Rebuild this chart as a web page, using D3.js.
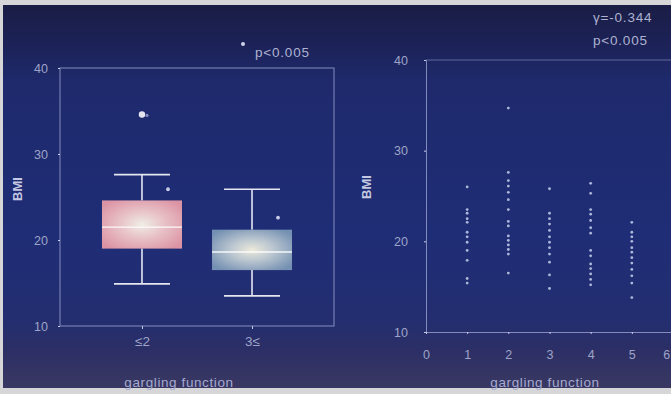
<!DOCTYPE html>
<html>
<head>
<meta charset="utf-8">
<script src="https://cdn.jsdelivr.net/npm/d3@7"></script>
<style>
  html, body { margin: 0; padding: 0; background: #d6d6d8; }
  svg { display: block; }
  text { font-family: "Liberation Sans", Arial, sans-serif; }
</style>
</head>
<body>
<svg id="chart" width="671" height="394"></svg>
<script>
// ---- data ----
const groupLabels = ["≤2", "3≤"];
// box statistics per group: whisker low, Q1, median, Q3, whisker high
const whiskerLow = [14.9, 13.5];
const q1 = [19.0, 16.5];
const median = [21.5, 18.6];
const q3 = [24.6, 21.2];
const whiskerHigh = [27.6, 25.9];
// outliers: [group index, BMI, kind]
const outliers = [[0, 34.6, "o"], [0, 25.9, "*"], [1, 22.6, "*"]];

const yTicks = [10, 20, 30, 40];
const xTicks = [0, 1, 2, 3, 4, 5, 6];

// scatter: BMI by gargling function score
const score1 = [26.0, 23.5, 23.1, 22.5, 22.1, 21.0, 20.5, 19.9, 19.0, 17.9, 15.9, 15.4];
const score2 = [34.7, 27.6, 26.7, 26.1, 25.4, 24.6, 23.5, 22.2, 21.7, 20.6, 20.1, 19.6, 19.1, 18.6, 16.5];
const score3 = [25.8, 23.1, 22.5, 21.9, 21.2, 20.5, 19.9, 19.3, 18.6, 17.7, 16.3, 14.8];
const score4 = [26.4, 25.3, 23.5, 23.0, 22.3, 21.5, 20.9, 19.0, 18.4, 17.5, 17.0, 16.4, 15.8, 15.2];
const score5 = [22.1, 21.0, 20.5, 20.0, 19.3, 18.8, 18.2, 17.6, 16.9, 16.2, 15.4, 13.8];
const scatterScores = [1, 2, 3, 4, 5];
const scatterValues = [score1, score2, score3, score4, score5];

const corrText = "γ=-0.344";
const pText = "p<0.005";
const axisTitle = "gargling function";
const yTitle = "BMI";

// ---- drawing ----
const svg = d3.select("#chart");
const defs = svg.append("defs");

const bg = defs.append("linearGradient").attr("id", "bg")
  .attr("x1", 0).attr("y1", 0).attr("x2", 0).attr("y2", 1);
[[0, "#1a1d45"], [0.1, "#1c2257"], [0.2, "#1e2a6c"], [0.6, "#1f2d76"],
 [0.82, "#232e70"], [0.9, "#2c2f66"], [1, "#3a3862"]]
  .forEach(([o, c]) => bg.append("stop").attr("offset", o).attr("stop-color", c));

function boxGrad(id, edge, mid, center) {
  const g = defs.append("radialGradient").attr("id", id)
    .attr("cx", "50%").attr("cy", "50%").attr("r", "62%");
  g.append("stop").attr("offset", 0).attr("stop-color", center);
  g.append("stop").attr("offset", 0.45).attr("stop-color", mid);
  g.append("stop").attr("offset", 1).attr("stop-color", edge);
}
boxGrad("box0", "#dc94a4", "#e8c2c8", "#efede4");
boxGrad("box1", "#7490b2", "#b8c4cf", "#eceadA");

svg.append("rect").attr("x", 3).attr("y", 5).attr("width", 668).attr("height", 383)
  .attr("fill", "url(#bg)");

const axisColor = "#9aa2d0";
const textColor = "#9ea4c8";
const tickFont = 12.5;
const titleFont = 13.5;

// ---- left panel: box plot ----
const L = { left: 60, right: 334, top: 68, bottom: 326 };
const yL = d3.scaleLinear().domain([10, 40]).range([L.bottom, L.top]);
const xL = d3.scalePoint().domain(groupLabels).range([L.left, L.right]).padding(0.745);
const boxW = 80, capW = 56;

const left = svg.append("g");
left.append("rect")
  .attr("x", L.left).attr("y", L.top)
  .attr("width", L.right - L.left).attr("height", L.bottom - L.top)
  .attr("fill", "none").attr("stroke", axisColor).attr("stroke-opacity", 0.75).attr("stroke-width", 1.1);

const yAxisL = left.append("g").attr("transform", `translate(${L.left},0)`)
  .call(d3.axisLeft(yL).tickValues(yTicks).tickSize(2).tickPadding(10));
yAxisL.select(".domain").remove();
yAxisL.selectAll("line").attr("stroke", "#c8cce8");
yAxisL.selectAll("text").attr("fill", textColor).attr("font-size", tickFont);

const xAxisL = left.append("g").attr("transform", `translate(0,${L.bottom})`)
  .call(d3.axisBottom(xL).tickSize(3).tickPadding(7));
xAxisL.select(".domain").remove();
xAxisL.selectAll("line").attr("stroke", "#c8cce8");
xAxisL.selectAll("text").attr("fill", textColor).attr("font-size", 13.5);

groupLabels.forEach((g, i) => {
  const cx = xL(g);
  const wc = "#e4e6f2";
  // whisker stems
  left.append("line").attr("x1", cx).attr("x2", cx)
    .attr("y1", yL(whiskerHigh[i])).attr("y2", yL(q3[i]))
    .attr("stroke", wc).attr("stroke-width", 1.6);
  left.append("line").attr("x1", cx).attr("x2", cx)
    .attr("y1", yL(q1[i])).attr("y2", yL(whiskerLow[i]))
    .attr("stroke", wc).attr("stroke-width", 1.6);
  // caps
  [whiskerHigh[i], whiskerLow[i]].forEach(v => {
    left.append("line").attr("x1", cx - capW / 2).attr("x2", cx + capW / 2)
      .attr("y1", yL(v)).attr("y2", yL(v))
      .attr("stroke", wc).attr("stroke-width", 1.6);
  });
  // box
  left.append("rect").attr("x", cx - boxW / 2).attr("y", yL(q3[i]))
    .attr("width", boxW).attr("height", yL(q1[i]) - yL(q3[i]))
    .attr("fill", `url(#box${i})`);
  // median
  left.append("line").attr("x1", cx - boxW / 2).attr("x2", cx + boxW / 2)
    .attr("y1", yL(median[i])).attr("y2", yL(median[i]))
    .attr("stroke", "#ffffff").attr("stroke-width", 1.4).attr("stroke-opacity", 0.9);
});

outliers.forEach(([gi, v, kind]) => {
  const cx = xL(groupLabels[gi]);
  if (kind === "o") {
    left.append("circle").attr("cx", cx).attr("cy", yL(v)).attr("r", 3.2)
      .attr("fill", "#e4e4f0");
    left.append("circle").attr("cx", cx + 5).attr("cy", yL(v) + 1).attr("r", 1.6)
      .attr("fill", "#9aa4d4").attr("opacity", 0.8);
  } else {
    left.append("circle").attr("cx", cx + 26).attr("cy", yL(v)).attr("r", 1.9)
      .attr("fill", "#c8cce6");
  }
});

// significance marker above the panel
left.append("circle").attr("cx", 243).attr("cy", 44).attr("r", 2).attr("fill", "#d0d4ec");
left.append("text").attr("x", 255).attr("y", 57).text(pText)
  .attr("fill", "#aeb2d0").attr("font-size", 13.5).attr("letter-spacing", 0.8);

left.append("text").attr("transform", `translate(22,189) rotate(-90)`)
  .attr("text-anchor", "middle").text(yTitle)
  .attr("fill", "#c4c8e2").attr("font-size", 13).attr("font-weight", "bold");
left.append("text").attr("x", 179).attr("y", 387).attr("text-anchor", "middle")
  .text(axisTitle).attr("fill", "#a4aad0").attr("font-size", titleFont).attr("letter-spacing", 0.6);

// ---- right panel: scatter ----
const R = { left: 426, right: 673, top: 60, bottom: 332 };
const yR = d3.scaleLinear().domain([10, 40]).range([R.bottom, R.top]);
const xR = d3.scaleLinear().domain([0, 6]).range([R.left, R.right]);

const right = svg.append("g");
right.append("line").attr("x1", R.left).attr("x2", 671).attr("y1", R.top).attr("y2", R.top)
  .attr("stroke", axisColor).attr("stroke-opacity", 0.55);

const yAxisR = right.append("g").attr("transform", `translate(${R.left},0)`)
  .call(d3.axisLeft(yR).tickValues(yTicks).tickSize(2).tickPadding(16));
yAxisR.select(".domain").attr("stroke", axisColor).attr("stroke-opacity", 0.8);
yAxisR.selectAll("line").attr("stroke", "#c8cce8");
yAxisR.selectAll("text").attr("fill", textColor).attr("font-size", tickFont);

const xAxisR = right.append("g").attr("transform", `translate(0,${R.bottom})`)
  .call(d3.axisBottom(xR).tickValues(xTicks).tickSize(2).tickPadding(16).tickFormat(d3.format("d")));
xAxisR.select(".domain").attr("stroke", axisColor).attr("stroke-opacity", 0.8);
xAxisR.selectAll("line").attr("stroke", "#c8cce8");
xAxisR.selectAll("text").attr("fill", textColor).attr("font-size", tickFont);
// last tick label sits at the window edge: keep it inside
xAxisR.selectAll(".tick").filter(d => d === 6).select("text")
  .attr("text-anchor", "end").attr("dx", "-0.1em").attr("x", 671 - xR(6));

const pts = [];
scatterScores.forEach((s, i) => scatterValues[i].forEach(v => pts.push({ s, v })));
right.selectAll("circle.pt").data(pts).enter().append("circle")
  .attr("class", "pt")
  .attr("cx", d => xR(d.s)).attr("cy", d => yR(d.v)).attr("r", 1.4)
  .attr("fill", "#bcc6e6").attr("opacity", 0.9);

right.append("text").attr("transform", `translate(371,187) rotate(-90)`)
  .attr("text-anchor", "middle").text(yTitle)
  .attr("fill", "#c4c8e2").attr("font-size", 13).attr("font-weight", "bold");
right.append("text").attr("x", 545).attr("y", 387).attr("text-anchor", "middle")
  .text(axisTitle).attr("fill", "#a4aad0").attr("font-size", titleFont).attr("letter-spacing", 0.6);

right.append("text").attr("x", 593).attr("y", 22).text(corrText)
  .attr("fill", "#aeb2d0").attr("font-size", 13.5).attr("letter-spacing", 0.8);
right.append("text").attr("x", 593).attr("y", 45).text(pText)
  .attr("fill", "#aeb2d0").attr("font-size", 13.5).attr("letter-spacing", 0.8);
</script>
</body>
</html>
